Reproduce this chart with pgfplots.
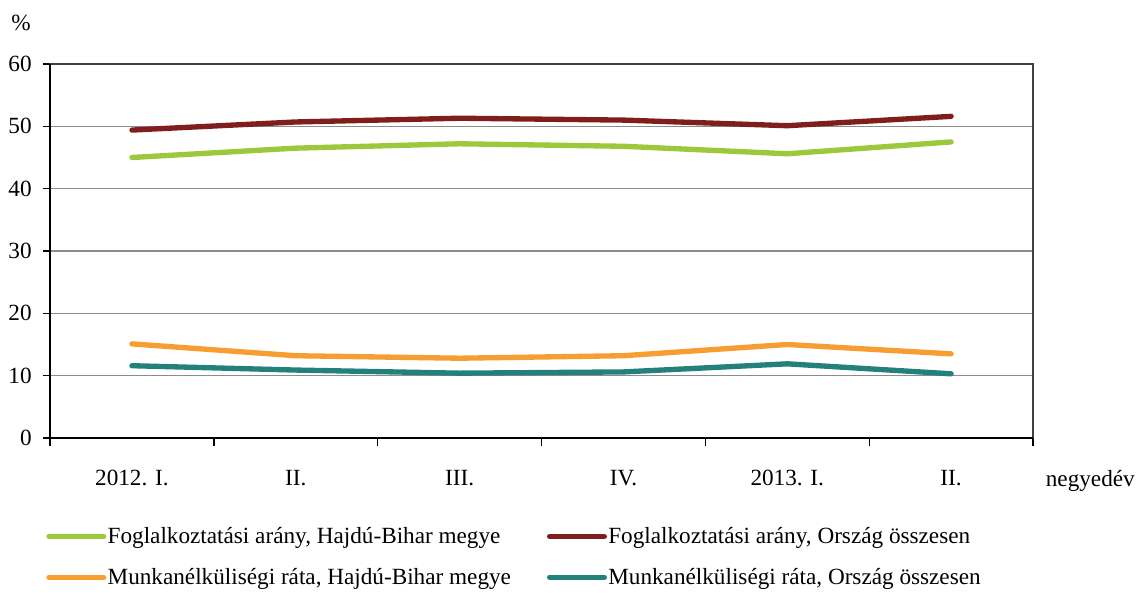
\documentclass[border=0pt]{standalone}
\usepackage{fontspec}
\setmainfont{Liberation Serif}
\usepackage{pgfplots}
\pgfplotsset{compat=1.18}
\definecolor{cGreen}{RGB}{155,201,59}
\definecolor{cRed}{RGB}{128,30,30}
\definecolor{cOrange}{RGB}{247,158,50}
\definecolor{cTeal}{RGB}{36,128,122}
\newcommand{\fs}{\fontsize{17.4pt}{20pt}\selectfont}
\begin{document}
\begin{tikzpicture}
\begin{axis}[
  scale only axis,
  width=737.25pt, height=280.5pt,
  xmin=-0.5, xmax=5.5, ymin=0, ymax=60,
  xtick={0,1,2,3,4,5},
  xticklabels={2012. I.,II.,III.,IV.,2013. I.,II.},
  minor xtick={-0.5,0.5,1.5,2.5,3.5,4.5,5.5},
  ytick={0,10,20,30,40,50,60},
  yticklabels={0,10,20,30,40,50,60},
  tick align=outside,
  xtick pos=bottom, ytick pos=left,
  major tick length=5.25pt, minor tick length=6pt,
  major x tick style={draw=none},
  every tick/.style={black, line width=1pt},
  minor x tick style={black, line width=1pt},
  ymajorgrids,
  grid style={color=black!45, line width=1.1pt},
  axis line style={color=black!75, line width=1.1pt},
  tick label style={font=\fs},
  y tick label style={xshift=-5pt},
  x tick label style={anchor=base, yshift=-30.5pt},
  legend columns=2,
  legend cell align=left,
  legend style={draw=none, fill=none, inner sep=0pt, font=\fs,
    at={(axis description cs:-0.004,-0.235)}, anchor=north west,
    nodes={inner sep=1pt},
    row sep=15pt,
    /tikz/every even column/.append style={column sep=26pt}},
  legend image code/.code={\draw[line width=4pt, line cap=round] (2pt,0pt) -- (43pt,0pt);},
  clip=false,
]
\addplot[cGreen, line width=4pt, line cap=round] coordinates {(0,45.0) (1,46.5) (2,47.2) (3,46.8) (4,45.6) (5,47.5)};
\addlegendentry{Foglalkoztatási arány, Hajdú-Bihar megye}
\addplot[cRed, line width=4pt, line cap=round] coordinates {(0,49.4) (1,50.7) (2,51.3) (3,51.0) (4,50.1) (5,51.6)};
\addlegendentry{Foglalkoztatási arány, Ország összesen}
\addplot[cOrange, line width=4pt, line cap=round] coordinates {(0,15.1) (1,13.2) (2,12.8) (3,13.2) (4,15.0) (5,13.5)};
\addlegendentry{Munkanélküliségi ráta, Hajdú-Bihar megye}
\addplot[cTeal, line width=4pt, line cap=round] coordinates {(0,11.6) (1,10.9) (2,10.4) (3,10.6) (4,11.9) (5,10.3)};
\addlegendentry{Munkanélküliségi ráta, Ország összesen}
\draw[black, line width=1.2pt] (rel axis cs:0,1) -- (rel axis cs:0,0) -- (rel axis cs:1,0);
\end{axis}
\node[font=\fs, inner sep=0pt] at ([xshift=-21.75pt,yshift=30.75pt]current axis.north west) {\%};
\node[font=\fs, inner sep=0pt, anchor=base east] at ([xshift=76.5pt,yshift=-36.5pt]current axis.south east) {negyedév};
\path ([xshift=-37.5pt,yshift=-115.5pt]current axis.south west) rectangle ([xshift=77.25pt,yshift=48pt]current axis.north east);
\end{tikzpicture}
\end{document}
